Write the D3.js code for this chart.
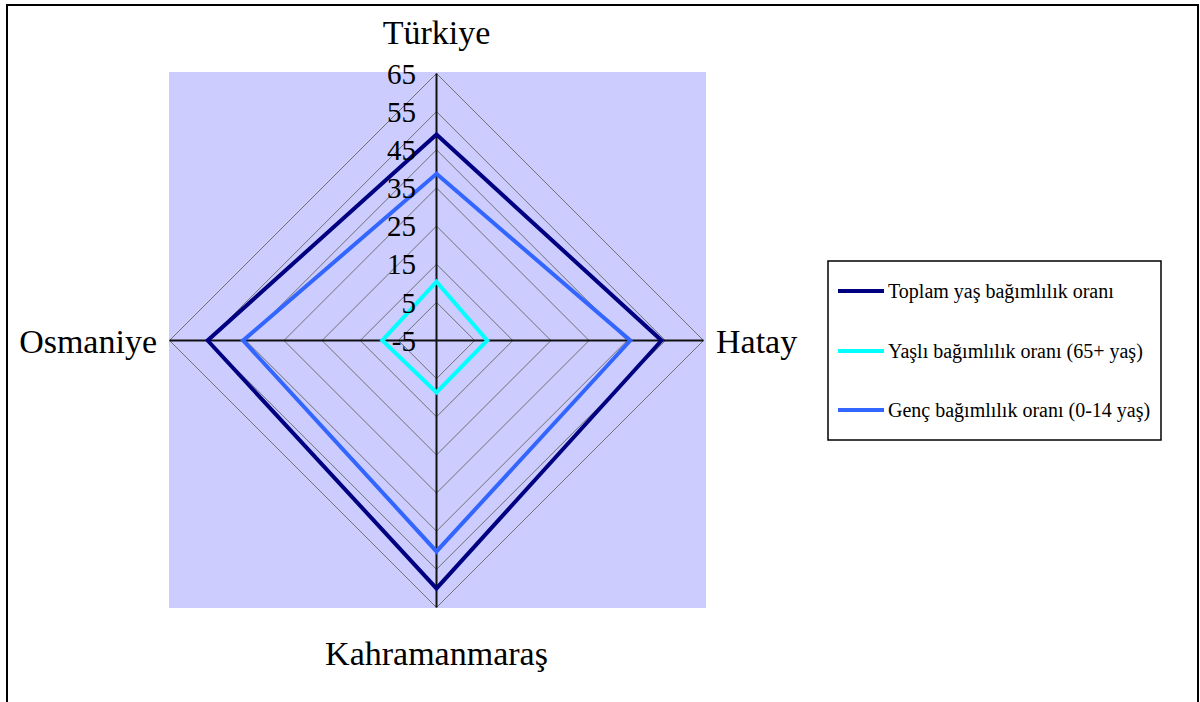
<!DOCTYPE html>
<html>
<head>
<meta charset="utf-8">
<script src="https://cdn.jsdelivr.net/npm/d3@7"></script>
<style>
  body { margin: 0; background: #fff; }
  svg text { font-family: "Liberation Serif", "DejaVu Serif", serif; fill: #000; }
</style>
</head>
<body>
<div id="chart"></div>
<script>
// categories, clockwise from the top
const categories = ['Türkiye', 'Hatay', 'Kahramanmaraş', 'Osmaniye'];
const ticks = [-5, 5, 15, 25, 35, 45, 55, 65];

const seriesNames = [
  'Toplam yaş bağımlılık oranı',
  'Yaşlı bağımlılık oranı (65+ yaş)',
  'Genç bağımlılık oranı (0-14 yaş)'
];
const toplam = [49.0, 54.0, 60.0, 55.0];
const yasli = [10.4, 8.3, 8.6, 9.2];
const genc = [38.7, 45.8, 50.3, 45.7];
const colors = ['#000080', '#00FFFF', '#3366FF'];

const W = 1200, H = 702;
const cx = 436.5, cy = 340.5, R = 267;

const svg = d3.select('#chart').append('svg')
  .attr('width', W).attr('height', H);

// outer frame
svg.append('rect')
  .attr('x', 7).attr('y', 5).attr('width', 1191).attr('height', 700)
  .attr('fill', '#fff').attr('stroke', '#000').attr('stroke-width', 2);

// plot area
svg.append('rect')
  .attr('x', 169).attr('y', 72).attr('width', 537).attr('height', 536)
  .attr('fill', '#CCCCFF');

const r = d3.scaleLinear().domain([-5, 65]).range([0, R]);
const angle = i => i * Math.PI / 2;
const pt = (v, i) => [cx + r(v) * Math.sin(angle(i)), cy - r(v) * Math.cos(angle(i))];

// grid diamonds
const g = svg.append('g');
g.selectAll('path.grid')
  .data(ticks.slice(1))
  .join('path')
  .attr('class', 'grid')
  .attr('d', t => d3.line()(categories.map((c, i) => pt(t, i))) + 'Z')
  .attr('fill', 'none')
  .attr('stroke', '#707070')
  .attr('stroke-width', 1);

// spokes
g.selectAll('line.spoke')
  .data(categories)
  .join('line')
  .attr('class', 'spoke')
  .attr('x1', cx).attr('y1', cy)
  .attr('x2', (d, i) => pt(65, i)[0])
  .attr('y2', (d, i) => pt(65, i)[1])
  .attr('stroke', '#111')
  .attr('stroke-width', 2);

// series
const series = [toplam, yasli, genc];
g.selectAll('path.series')
  .data(series)
  .join('path')
  .attr('class', 'series')
  .attr('d', vals => d3.line()(vals.map((v, i) => pt(v, i))) + 'Z')
  .attr('fill', 'none')
  .attr('stroke', (d, i) => colors[i])
  .attr('stroke-width', 4)
  .attr('stroke-linejoin', 'miter');

// tick labels
svg.selectAll('text.tick')
  .data(ticks)
  .join('text')
  .attr('class', 'tick')
  .attr('x', 416)
  .attr('y', t => cy - r(t))
  .attr('dy', '0.35em')
  .attr('text-anchor', 'end')
  .style('font-size', '29px')
  .text(t => t);

// category labels
const labelPos = [
  { x: cx, y: 44, anchor: 'middle' },
  { x: 716, y: 353, anchor: 'start' },
  { x: cx, y: 665, anchor: 'middle' },
  { x: 157, y: 353, anchor: 'end' }
];
svg.selectAll('text.cat')
  .data(categories)
  .join('text')
  .attr('class', 'cat')
  .attr('x', (d, i) => labelPos[i].x)
  .attr('y', (d, i) => labelPos[i].y)
  .attr('text-anchor', (d, i) => labelPos[i].anchor)
  .style('font-size', '34px')
  .text(d => d);

// legend
const lg = svg.append('g');
lg.append('rect')
  .attr('x', 828).attr('y', 261).attr('width', 333).attr('height', 179)
  .attr('fill', '#fff').attr('stroke', '#000').attr('stroke-width', 1.5);
const ly = [291, 351, 410];
const items = lg.selectAll('g.item')
  .data(seriesNames)
  .join('g')
  .attr('class', 'item')
  .attr('transform', (d, i) => `translate(0,${ly[i]})`);
items.append('line')
  .attr('x1', 838).attr('x2', 884)
  .attr('stroke', (d, i) => colors[i])
  .attr('stroke-width', 4);
items.append('text')
  .attr('x', 888)
  .attr('dy', '0.35em')
  .style('font-size', '20px')
  .text(d => d);
</script>
</body>
</html>
